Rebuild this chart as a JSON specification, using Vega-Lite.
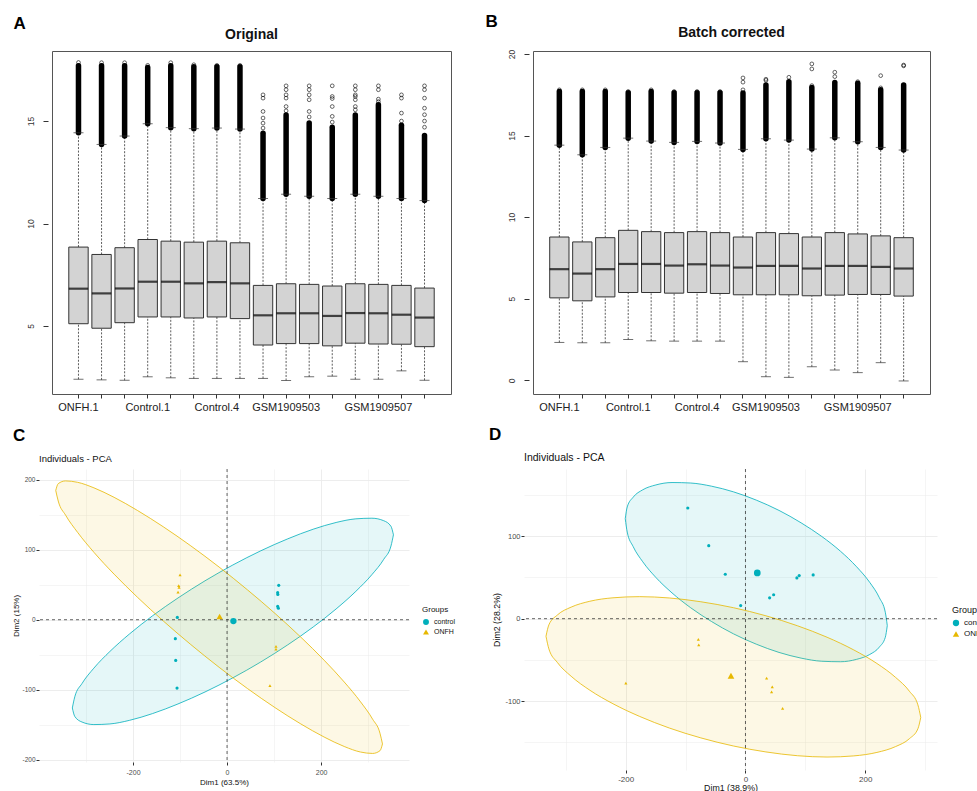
{
"$schema": "https://vega.github.io/schema/vega-lite/v6.json",
"background": "white",
"padding": {"left": 12, "top": 12, "right": 0, "bottom": 0},
"config": {"font": "Liberation Sans", "view": {"stroke": "#555", "strokeWidth": 1}, "axis": {"labelFont": "Liberation Sans", "titleFont": "Liberation Sans"}, "legend": {"labelFont": "Liberation Sans", "titleFont": "Liberation Sans", "layout": {"right": {"anchor": "middle"}}}},
"datasets": {
"zeros": [{"zero": 0}],
"boxA": [
{"sample":"ONFH.1","lower":2.40,"q1":5.11,"median":6.82,"q3":8.85,"upper":14.43,"dense":17.7},
{"sample":"ONFH.2","lower":2.37,"q1":4.89,"median":6.59,"q3":8.49,"upper":13.86,"dense":17.7},
{"sample":"ONFH.3","lower":2.35,"q1":5.16,"median":6.83,"q3":8.82,"upper":14.27,"dense":17.7},
{"sample":"Control.1","lower":2.52,"q1":5.44,"median":7.16,"q3":9.22,"upper":14.87,"dense":17.62},
{"sample":"Control.2","lower":2.47,"q1":5.44,"median":7.16,"q3":9.14,"upper":14.68,"dense":17.7},
{"sample":"Control.3","lower":2.44,"q1":5.39,"median":7.08,"q3":9.09,"upper":14.63,"dense":17.65},
{"sample":"Control.4","lower":2.44,"q1":5.44,"median":7.14,"q3":9.14,"upper":14.66,"dense":17.65},
{"sample":"Control.5","lower":2.44,"q1":5.36,"median":7.08,"q3":9.06,"upper":14.61,"dense":17.65},
{"sample":"GSM1909502","lower":2.44,"q1":4.07,"median":5.52,"q3":6.98,"upper":11.22,"dense":14.4},
{"sample":"GSM1909503","lower":2.34,"q1":4.14,"median":5.62,"q3":7.06,"upper":11.43,"dense":15.3},
{"sample":"GSM1909504","lower":2.52,"q1":4.14,"median":5.62,"q3":7.03,"upper":11.33,"dense":14.9},
{"sample":"GSM1909505","lower":2.55,"q1":4.03,"median":5.49,"q3":6.95,"upper":11.22,"dense":14.7},
{"sample":"GSM1909506","lower":2.40,"q1":4.16,"median":5.63,"q3":7.06,"upper":11.43,"dense":15.3},
{"sample":"GSM1909507","lower":2.40,"q1":4.12,"median":5.62,"q3":7.03,"upper":11.33,"dense":15.8},
{"sample":"GSM1909508","lower":2.81,"q1":4.11,"median":5.55,"q3":6.98,"upper":11.22,"dense":14.8},
{"sample":"GSM1909509","lower":2.35,"q1":3.99,"median":5.41,"q3":6.85,"upper":11.12,"dense":14.3}
],
"outA": [
{"sample":"ONFH.1","value":17.86},{"sample":"ONFH.2","value":17.85},{"sample":"ONFH.3","value":17.85},
{"sample":"Control.1","value":17.72},{"sample":"Control.2","value":17.85},{"sample":"Control.3","value":17.75},{"sample":"Control.4","value":17.72},{"sample":"Control.5","value":17.72},
{"sample":"GSM1909502","value":16.28},{"sample":"GSM1909502","value":16.12},{"sample":"GSM1909502","value":15.47},{"sample":"GSM1909502","value":15.15},{"sample":"GSM1909502","value":14.9},{"sample":"GSM1909502","value":14.66},
{"sample":"GSM1909503","value":16.72},{"sample":"GSM1909503","value":16.53},{"sample":"GSM1909503","value":16.28},{"sample":"GSM1909503","value":16.12},{"sample":"GSM1909503","value":15.71},{"sample":"GSM1909503","value":15.5},
{"sample":"GSM1909504","value":16.72},{"sample":"GSM1909504","value":16.53},{"sample":"GSM1909504","value":16.28},{"sample":"GSM1909504","value":16.04},{"sample":"GSM1909504","value":15.47},{"sample":"GSM1909504","value":15.2},
{"sample":"GSM1909505","value":16.72},{"sample":"GSM1909505","value":16.2},{"sample":"GSM1909505","value":16.1},{"sample":"GSM1909505","value":15.71},{"sample":"GSM1909505","value":15.23},{"sample":"GSM1909505","value":14.95},
{"sample":"GSM1909506","value":16.72},{"sample":"GSM1909506","value":16.53},{"sample":"GSM1909506","value":16.28},{"sample":"GSM1909506","value":16.2},{"sample":"GSM1909506","value":16.04},{"sample":"GSM1909506","value":15.71},{"sample":"GSM1909506","value":15.55},
{"sample":"GSM1909507","value":16.72},{"sample":"GSM1909507","value":16.53},{"sample":"GSM1909507","value":16.07},{"sample":"GSM1909507","value":15.95},
{"sample":"GSM1909508","value":16.28},{"sample":"GSM1909508","value":16.12},{"sample":"GSM1909508","value":15.39},{"sample":"GSM1909508","value":15.0},
{"sample":"GSM1909509","value":16.72},{"sample":"GSM1909509","value":16.53},{"sample":"GSM1909509","value":16.12},{"sample":"GSM1909509","value":15.63},{"sample":"GSM1909509","value":15.31},{"sample":"GSM1909509","value":15.0},{"sample":"GSM1909509","value":14.7}
],
"boxB": [
{"sample":"ONFH.1","lower":2.32,"q1":5.05,"median":6.81,"q3":8.78,"upper":14.41,"dense":17.7},
{"sample":"ONFH.2","lower":2.30,"q1":4.87,"median":6.54,"q3":8.48,"upper":13.82,"dense":17.7},
{"sample":"ONFH.3","lower":2.30,"q1":5.11,"median":6.81,"q3":8.74,"upper":14.27,"dense":17.7},
{"sample":"Control.1","lower":2.50,"q1":5.38,"median":7.13,"q3":9.19,"upper":14.84,"dense":17.62},
{"sample":"Control.2","lower":2.42,"q1":5.38,"median":7.13,"q3":9.11,"upper":14.66,"dense":17.7},
{"sample":"Control.3","lower":2.40,"q1":5.34,"median":7.03,"q3":9.05,"upper":14.58,"dense":17.62},
{"sample":"Control.4","lower":2.40,"q1":5.38,"median":7.11,"q3":9.11,"upper":14.64,"dense":17.62},
{"sample":"Control.5","lower":2.40,"q1":5.32,"median":7.03,"q3":9.05,"upper":14.54,"dense":17.62},
{"sample":"GSM1909502","lower":1.14,"q1":5.24,"median":6.91,"q3":8.78,"upper":14.15,"dense":17.6},
{"sample":"GSM1909503","lower":0.22,"q1":5.24,"median":7.01,"q3":9.05,"upper":14.80,"dense":18.1},
{"sample":"GSM1909504","lower":0.18,"q1":5.24,"median":7.01,"q3":8.99,"upper":14.72,"dense":18.3},
{"sample":"GSM1909505","lower":0.83,"q1":5.18,"median":6.85,"q3":8.78,"upper":14.17,"dense":17.95},
{"sample":"GSM1909506","lower":0.63,"q1":5.22,"median":7.01,"q3":9.05,"upper":14.86,"dense":18.25},
{"sample":"GSM1909507","lower":0.47,"q1":5.26,"median":7.01,"q3":8.97,"upper":14.62,"dense":18.2},
{"sample":"GSM1909508","lower":1.08,"q1":5.26,"median":6.95,"q3":8.85,"upper":14.27,"dense":17.8},
{"sample":"GSM1909509","lower":-0.04,"q1":5.16,"median":6.85,"q3":8.74,"upper":14.11,"dense":18.1}
],
"outB": [
{"sample":"ONFH.1","value":17.8},{"sample":"ONFH.2","value":17.8},{"sample":"ONFH.3","value":17.8},
{"sample":"Control.1","value":17.7},{"sample":"Control.2","value":17.8},{"sample":"Control.3","value":17.7},{"sample":"Control.4","value":17.7},{"sample":"Control.5","value":17.7},
{"sample":"GSM1909502","value":17.8},{"sample":"GSM1909502","value":18.27},{"sample":"GSM1909502","value":18.53},
{"sample":"GSM1909503","value":18.38},{"sample":"GSM1909503","value":18.45},
{"sample":"GSM1909504","value":18.57},
{"sample":"GSM1909505","value":18.06},{"sample":"GSM1909505","value":19.08},{"sample":"GSM1909505","value":19.39},
{"sample":"GSM1909506","value":18.61},{"sample":"GSM1909506","value":18.88},
{"sample":"GSM1909507","value":18.3},
{"sample":"GSM1909508","value":17.92},{"sample":"GSM1909508","value":18.67},
{"sample":"GSM1909509","value":19.27},{"sample":"GSM1909509","value":19.32}
],
"ellC": [
{"group":"control","x":353.9,"top":121.1,"bot":121.1},
{"group":"control","x":348.7,"top":133.2,"bot":105.2},
{"group":"control","x":333.3,"top":141.2,"bot":86.2},
{"group":"control","x":308.1,"top":144.8,"bot":64.3},
{"group":"control","x":274.0,"top":143.9,"bot":40.5},
{"group":"control","x":231.9,"top":138.7,"bot":15.3},
{"group":"control","x":183.2,"top":129.1,"bot":-10.4},
{"group":"control","x":129.2,"top":115.4,"bot":-35.8},
{"group":"control","x":71.7,"top":98.3,"bot":-60.3},
{"group":"control","x":12.4,"top":78.1,"bot":-82.9},
{"group":"control","x":-46.9,"top":55.5,"bot":-103.1},
{"group":"control","x":-104.4,"top":31.0,"bot":-120.2},
{"group":"control","x":-158.4,"top":5.6,"bot":-133.9},
{"group":"control","x":-207.1,"top":-20.1,"bot":-143.5},
{"group":"control","x":-249.2,"top":-45.3,"bot":-148.7},
{"group":"control","x":-283.3,"top":-69.1,"bot":-149.6},
{"group":"control","x":-308.5,"top":-91.0,"bot":-146.0},
{"group":"control","x":-323.9,"top":-110.0,"bot":-138.0},
{"group":"control","x":-329.1,"top":-125.9,"bot":-125.9},
{"group":"ONFH","x":330.6,"top":-177.2,"bot":-177.2},
{"group":"ONFH","x":325.3,"top":-162.0,"bot":-186.9},
{"group":"ONFH","x":309.6,"top":-141.9,"bot":-190.8},
{"group":"ONFH","x":284.0,"top":-117.2,"bot":-188.8},
{"group":"ONFH","x":249.3,"top":-88.9,"bot":-180.9},
{"group":"ONFH","x":206.5,"top":-57.8,"bot":-167.4},
{"group":"ONFH","x":156.9,"top":-24.9,"bot":-148.7},
{"group":"ONFH","x":101.9,"top":9.0,"bot":-125.4},
{"group":"ONFH","x":43.4,"top":42.6,"bot":-98.2},
{"group":"ONFH","x":-16.9,"top":75.1,"bot":-67.9},
{"group":"ONFH","x":-77.2,"top":105.4,"bot":-35.4},
{"group":"ONFH","x":-135.7,"top":132.6,"bot":-1.8},
{"group":"ONFH","x":-190.7,"top":155.9,"bot":32.1},
{"group":"ONFH","x":-240.3,"top":174.6,"bot":65.0},
{"group":"ONFH","x":-283.1,"top":188.1,"bot":96.1},
{"group":"ONFH","x":-317.8,"top":196.0,"bot":124.5},
{"group":"ONFH","x":-343.4,"top":198.0,"bot":149.1},
{"group":"ONFH","x":-359.1,"top":194.1,"bot":169.3},
{"group":"ONFH","x":-364.4,"top":184.4,"bot":184.4}
],
"ptsC": [
{"group":"control","kind":"ind","x":109.9,"y":49.0},
{"group":"control","kind":"ind","x":107.7,"y":38.6},
{"group":"control","kind":"ind","x":108.0,"y":36.0},
{"group":"control","kind":"ind","x":107.7,"y":19.0},
{"group":"control","kind":"ind","x":109.2,"y":16.3},
{"group":"control","kind":"ind","x":-105.8,"y":3.3},
{"group":"control","kind":"ind","x":-110.0,"y":-27.1},
{"group":"control","kind":"ind","x":-109.2,"y":-58.1},
{"group":"control","kind":"ind","x":-106.4,"y":-97.6},
{"group":"control","kind":"mean","x":13.5,"y":-1.9},
{"group":"ONFH","kind":"ind","x":-100.0,"y":63.8},
{"group":"ONFH","kind":"ind","x":-102.8,"y":48.6},
{"group":"ONFH","kind":"ind","x":-102.1,"y":46.2},
{"group":"ONFH","kind":"ind","x":-104.3,"y":39.5},
{"group":"ONFH","kind":"ind","x":104.1,"y":-38.1},
{"group":"ONFH","kind":"ind","x":104.1,"y":-41.9},
{"group":"ONFH","kind":"ind","x":91.2,"y":-93.9},
{"group":"ONFH","kind":"mean","x":-15.8,"y":4.7}
],
"ellD": [
{"group":"control","x":236.7,"top":-8.4,"bot":-8.4},
{"group":"control","x":233.4,"top":7.8,"bot":-22.6},
{"group":"control","x":223.5,"top":25.4,"bot":-34.4},
{"group":"control","x":207.4,"top":44.0,"bot":-43.4},
{"group":"control","x":185.5,"top":62.9,"bot":-49.3},
{"group":"control","x":158.6,"top":81.7,"bot":-52.2},
{"group":"control","x":127.4,"top":99.6,"bot":-51.6},
{"group":"control","x":92.8,"top":116.2,"bot":-47.8},
{"group":"control","x":56.0,"top":131.2,"bot":-40.9},
{"group":"control","x":18.0,"top":143.7,"bot":-30.9},
{"group":"control","x":-20.0,"top":153.7,"bot":-18.4},
{"group":"control","x":-56.8,"top":160.6,"bot":-3.4},
{"group":"control","x":-91.4,"top":164.4,"bot":13.2},
{"group":"control","x":-122.6,"top":165.0,"bot":31.2},
{"group":"control","x":-149.5,"top":162.1,"bot":49.9},
{"group":"control","x":-171.4,"top":156.2,"bot":68.9},
{"group":"control","x":-187.5,"top":147.2,"bot":87.4},
{"group":"control","x":-197.4,"top":135.4,"bot":105.0},
{"group":"control","x":-200.7,"top":121.2,"bot":121.2},
{"group":"ONFH","x":292.6,"top":-119.7,"bot":-119.7},
{"group":"ONFH","x":287.8,"top":-104.4,"bot":-133.5},
{"group":"ONFH","x":273.7,"top":-88.0,"bot":-145.4},
{"group":"ONFH","x":250.6,"top":-71.2,"bot":-155.0},
{"group":"ONFH","x":219.4,"top":-54.3,"bot":-162.1},
{"group":"ONFH","x":180.8,"top":-37.9,"bot":-166.3},
{"group":"ONFH","x":136.2,"top":-22.5,"bot":-167.7},
{"group":"ONFH","x":86.8,"top":-8.6,"bot":-166.1},
{"group":"ONFH","x":34.1,"top":3.5,"bot":-161.5},
{"group":"ONFH","x":-20.2,"top":13.3,"bot":-154.3},
{"group":"ONFH","x":-74.5,"top":20.5,"bot":-144.5},
{"group":"ONFH","x":-127.2,"top":25.1,"bot":-132.5},
{"group":"ONFH","x":-176.6,"top":26.7,"bot":-118.5},
{"group":"ONFH","x":-221.2,"top":25.3,"bot":-103.1},
{"group":"ONFH","x":-259.8,"top":21.1,"bot":-86.7},
{"group":"ONFH","x":-291.0,"top":14.0,"bot":-69.8},
{"group":"ONFH","x":-314.1,"top":4.4,"bot":-53.0},
{"group":"ONFH","x":-328.2,"top":-7.5,"bot":-36.6},
{"group":"ONFH","x":-333.0,"top":-21.3,"bot":-21.3}
],
"ptsD": [
{"group":"control","kind":"ind","x":-96.3,"y":134.1},
{"group":"control","kind":"ind","x":-61.3,"y":88.5},
{"group":"control","kind":"ind","x":-33.7,"y":53.8},
{"group":"control","kind":"ind","x":-8.0,"y":15.9},
{"group":"control","kind":"ind","x":85.8,"y":49.4},
{"group":"control","kind":"ind","x":89.7,"y":52.2},
{"group":"control","kind":"ind","x":113.0,"y":53.0},
{"group":"control","kind":"ind","x":40.3,"y":25.3},
{"group":"control","kind":"ind","x":47.0,"y":29.0},
{"group":"control","kind":"mean","x":19.7,"y":55.5},
{"group":"ONFH","kind":"ind","x":-78.7,"y":-25.2},
{"group":"ONFH","kind":"ind","x":-78.0,"y":-31.8},
{"group":"ONFH","kind":"ind","x":-199.7,"y":-78.2},
{"group":"ONFH","kind":"ind","x":35.3,"y":-72.1},
{"group":"ONFH","kind":"ind","x":44.7,"y":-82.6},
{"group":"ONFH","kind":"ind","x":43.6,"y":-88.8},
{"group":"ONFH","kind":"ind","x":62.0,"y":-108.8},
{"group":"ONFH","kind":"mean","x":-24.2,"y":-69.2}
]
},
"resolve": {"scale": {"color": "independent", "shape": "independent", "size": "independent", "fill": "independent", "stroke": "independent"}, "legend": {"color": "independent", "shape": "independent"}},
"spacing": 13,
"vconcat": [
{
"spacing": -27,
"hconcat": [
{"width": 1, "height": 1, "data": {"values": []}, "mark": {"type": "point", "opacity": 0}, "view": {"stroke": null}},
{
"spacing": 33,
"hconcat": [
{
"title": {"text": "A", "anchor": "start", "frame": "bounds", "fontSize": 17, "fontWeight": "bold", "color": "black", "offset": -5},
"vconcat": [
{
"width": 399, "height": 343,
"title": {"text": "Original", "fontSize": 14, "fontWeight": "bold", "anchor": "middle", "color": "#111", "offset": 9},
"data": {"name": "boxA"},
"encoding": {"x": {"field": "sample", "type": "nominal", "sort": null, "scale": {"type": "band", "domain": ["ONFH.1","ONFH.2","ONFH.3","Control.1","Control.2","Control.3","Control.4","Control.5","GSM1909502","GSM1909503","GSM1909504","GSM1909505","GSM1909506","GSM1909507","GSM1909508","GSM1909509"], "paddingInner": 0, "paddingOuter": 0.648},
 "axis": {"title": null, "domain": false, "grid": false, "tickSize": 4, "tickColor": "#333", "bandPosition": 0.5, "labelAngle": 0, "labelFontSize": 11, "labelColor": "#222", "labelPadding": 3, "labelOverlap": false, "labelExpr": "indexof(['ONFH.1','Control.1','Control.4','GSM1909503','GSM1909507'], datum.value) >= 0 ? datum.value : ''"}}},
"layer": [
{"mark": {"type": "rule", "strokeDash": [2, 1.5], "strokeWidth": 0.8, "color": "#333"}, "encoding": {"y": {"field": "lower", "type": "quantitative", "scale": {"domain": [1.68, 18.42], "nice": false, "zero": false}, "axis": {"title": " ", "titleFontSize": 8, "titlePadding": 4, "values": [5, 10, 15], "labelAngle": -90, "domain": false, "grid": false, "tickSize": 5, "tickColor": "#333", "offset": 4, "labelPadding": 8, "labelFontSize": 8.5, "labelColor": "#333"}}, "y2": {"field": "q1"}}},
{"mark": {"type": "rule", "strokeDash": [2, 1.5], "strokeWidth": 0.8, "color": "#333"}, "encoding": {"y": {"field": "q3", "type": "quantitative", "scale": {"domain": [1.68, 18.42], "nice": false, "zero": false}, "axis": {"title": " ", "titleFontSize": 8, "titlePadding": 4, "values": [5, 10, 15], "labelAngle": -90, "domain": false, "grid": false, "tickSize": 5, "tickColor": "#333", "offset": 4, "labelPadding": 8, "labelFontSize": 8.5, "labelColor": "#333"}}, "y2": {"field": "upper"}}},
{"mark": {"type": "rule", "strokeWidth": 5.5, "color": "black", "strokeCap": "round"}, "encoding": {"y": {"field": "upper", "type": "quantitative", "scale": {"domain": [1.68, 18.42], "nice": false, "zero": false}, "axis": {"title": " ", "titleFontSize": 8, "titlePadding": 4, "values": [5, 10, 15], "labelAngle": -90, "domain": false, "grid": false, "tickSize": 5, "tickColor": "#333", "offset": 4, "labelPadding": 8, "labelFontSize": 8.5, "labelColor": "#333"}}, "y2": {"field": "dense"}}},
{"mark": {"type": "tick", "size": 10, "thickness": 1, "color": "#333"}, "encoding": {"y": {"field": "lower", "type": "quantitative", "scale": {"domain": [1.68, 18.42], "nice": false, "zero": false}, "axis": {"title": " ", "titleFontSize": 8, "titlePadding": 4, "values": [5, 10, 15], "labelAngle": -90, "domain": false, "grid": false, "tickSize": 5, "tickColor": "#333", "offset": 4, "labelPadding": 8, "labelFontSize": 8.5, "labelColor": "#333"}}}},
{"mark": {"type": "tick", "size": 10, "thickness": 1, "color": "#333"}, "encoding": {"y": {"field": "upper", "type": "quantitative", "scale": {"domain": [1.68, 18.42], "nice": false, "zero": false}, "axis": {"title": " ", "titleFontSize": 8, "titlePadding": 4, "values": [5, 10, 15], "labelAngle": -90, "domain": false, "grid": false, "tickSize": 5, "tickColor": "#333", "offset": 4, "labelPadding": 8, "labelFontSize": 8.5, "labelColor": "#333"}}}},
{"mark": {"type": "bar", "width": {"band": 0.84}, "fill": "#D3D3D3", "stroke": "#333", "strokeWidth": 1}, "encoding": {"y": {"field": "q1", "type": "quantitative", "scale": {"domain": [1.68, 18.42], "nice": false, "zero": false}, "axis": {"title": " ", "titleFontSize": 8, "titlePadding": 4, "values": [5, 10, 15], "labelAngle": -90, "domain": false, "grid": false, "tickSize": 5, "tickColor": "#333", "offset": 4, "labelPadding": 8, "labelFontSize": 8.5, "labelColor": "#333"}}, "y2": {"field": "q3"}}},
{"mark": {"type": "tick", "size": 19.4, "thickness": 2.2, "color": "black"}, "encoding": {"y": {"field": "median", "type": "quantitative", "scale": {"domain": [1.68, 18.42], "nice": false, "zero": false}, "axis": {"title": " ", "titleFontSize": 8, "titlePadding": 4, "values": [5, 10, 15], "labelAngle": -90, "domain": false, "grid": false, "tickSize": 5, "tickColor": "#333", "offset": 4, "labelPadding": 8, "labelFontSize": 8.5, "labelColor": "#333"}}}},
{"data": {"name": "outA"}, "mark": {"type": "point", "shape": "circle", "filled": false, "size": 14, "color": "black", "strokeWidth": 0.6, "opacity": 1}, "encoding": {"y": {"field": "value", "type": "quantitative", "scale": {"domain": [1.68, 18.42], "nice": false, "zero": false}, "axis": {"title": " ", "titleFontSize": 8, "titlePadding": 4, "values": [5, 10, 15], "labelAngle": -90, "domain": false, "grid": false, "tickSize": 5, "tickColor": "#333", "offset": 4, "labelPadding": 8, "labelFontSize": 8.5, "labelColor": "#333"}}}}
]
}
]
},
{
"title": {"text": "B", "anchor": "start", "frame": "bounds", "fontSize": 17, "fontWeight": "bold", "color": "black", "offset": -5},
"vconcat": [
{
"width": 397, "height": 343,
"title": {"text": "Batch corrected", "fontSize": 14, "fontWeight": "bold", "anchor": "middle", "color": "#111", "offset": 9},
"data": {"name": "boxB"},
"encoding": {"x": {"field": "sample", "type": "nominal", "sort": null, "scale": {"type": "band", "domain": ["ONFH.1","ONFH.2","ONFH.3","Control.1","Control.2","Control.3","Control.4","Control.5","GSM1909502","GSM1909503","GSM1909504","GSM1909505","GSM1909506","GSM1909507","GSM1909508","GSM1909509"], "paddingInner": 0, "paddingOuter": 0.648},
 "axis": {"title": null, "domain": false, "grid": false, "tickSize": 4, "tickColor": "#333", "bandPosition": 0.5, "labelAngle": 0, "labelFontSize": 11, "labelColor": "#222", "labelPadding": 3, "labelOverlap": false, "labelExpr": "indexof(['ONFH.1','Control.1','Control.4','GSM1909503','GSM1909507'], datum.value) >= 0 ? datum.value : ''"}}},
"layer": [
{"mark": {"type": "rule", "strokeDash": [2, 1.5], "strokeWidth": 0.8, "color": "#333"}, "encoding": {"y": {"field": "lower", "type": "quantitative", "scale": {"domain": [-0.84, 20.18], "nice": false, "zero": false}, "axis": {"title": " ", "titleFontSize": 8, "titlePadding": 13, "values": [0, 5, 10, 15, 20], "labelAngle": -90, "domain": false, "grid": false, "tickSize": 5, "tickColor": "#333", "offset": 4, "labelPadding": 8, "labelFontSize": 8.5, "labelColor": "#333"}}, "y2": {"field": "q1"}}},
{"mark": {"type": "rule", "strokeDash": [2, 1.5], "strokeWidth": 0.8, "color": "#333"}, "encoding": {"y": {"field": "q3", "type": "quantitative", "scale": {"domain": [-0.84, 20.18], "nice": false, "zero": false}, "axis": {"title": " ", "titleFontSize": 8, "titlePadding": 13, "values": [0, 5, 10, 15, 20], "labelAngle": -90, "domain": false, "grid": false, "tickSize": 5, "tickColor": "#333", "offset": 4, "labelPadding": 8, "labelFontSize": 8.5, "labelColor": "#333"}}, "y2": {"field": "upper"}}},
{"mark": {"type": "rule", "strokeWidth": 5.5, "color": "black", "strokeCap": "round"}, "encoding": {"y": {"field": "upper", "type": "quantitative", "scale": {"domain": [-0.84, 20.18], "nice": false, "zero": false}, "axis": {"title": " ", "titleFontSize": 8, "titlePadding": 13, "values": [0, 5, 10, 15, 20], "labelAngle": -90, "domain": false, "grid": false, "tickSize": 5, "tickColor": "#333", "offset": 4, "labelPadding": 8, "labelFontSize": 8.5, "labelColor": "#333"}}, "y2": {"field": "dense"}}},
{"mark": {"type": "tick", "size": 10, "thickness": 1, "color": "#333"}, "encoding": {"y": {"field": "lower", "type": "quantitative", "scale": {"domain": [-0.84, 20.18], "nice": false, "zero": false}, "axis": {"title": " ", "titleFontSize": 8, "titlePadding": 13, "values": [0, 5, 10, 15, 20], "labelAngle": -90, "domain": false, "grid": false, "tickSize": 5, "tickColor": "#333", "offset": 4, "labelPadding": 8, "labelFontSize": 8.5, "labelColor": "#333"}}}},
{"mark": {"type": "tick", "size": 10, "thickness": 1, "color": "#333"}, "encoding": {"y": {"field": "upper", "type": "quantitative", "scale": {"domain": [-0.84, 20.18], "nice": false, "zero": false}, "axis": {"title": " ", "titleFontSize": 8, "titlePadding": 13, "values": [0, 5, 10, 15, 20], "labelAngle": -90, "domain": false, "grid": false, "tickSize": 5, "tickColor": "#333", "offset": 4, "labelPadding": 8, "labelFontSize": 8.5, "labelColor": "#333"}}}},
{"mark": {"type": "bar", "width": {"band": 0.84}, "fill": "#D3D3D3", "stroke": "#333", "strokeWidth": 1}, "encoding": {"y": {"field": "q1", "type": "quantitative", "scale": {"domain": [-0.84, 20.18], "nice": false, "zero": false}, "axis": {"title": " ", "titleFontSize": 8, "titlePadding": 13, "values": [0, 5, 10, 15, 20], "labelAngle": -90, "domain": false, "grid": false, "tickSize": 5, "tickColor": "#333", "offset": 4, "labelPadding": 8, "labelFontSize": 8.5, "labelColor": "#333"}}, "y2": {"field": "q3"}}},
{"mark": {"type": "tick", "size": 19.4, "thickness": 2.2, "color": "black"}, "encoding": {"y": {"field": "median", "type": "quantitative", "scale": {"domain": [-0.84, 20.18], "nice": false, "zero": false}, "axis": {"title": " ", "titleFontSize": 8, "titlePadding": 13, "values": [0, 5, 10, 15, 20], "labelAngle": -90, "domain": false, "grid": false, "tickSize": 5, "tickColor": "#333", "offset": 4, "labelPadding": 8, "labelFontSize": 8.5, "labelColor": "#333"}}}},
{"data": {"name": "outB"}, "mark": {"type": "point", "shape": "circle", "filled": false, "size": 14, "color": "black", "strokeWidth": 0.6, "opacity": 1}, "encoding": {"y": {"field": "value", "type": "quantitative", "scale": {"domain": [-0.84, 20.18], "nice": false, "zero": false}, "axis": {"title": " ", "titleFontSize": 8, "titlePadding": 13, "values": [0, 5, 10, 15, 20], "labelAngle": -90, "domain": false, "grid": false, "tickSize": 5, "tickColor": "#333", "offset": 4, "labelPadding": 8, "labelFontSize": 8.5, "labelColor": "#333"}}}}
]
}
]
}
]
}
]
},
{
"resolve": {"scale": {"color": "independent", "shape": "independent", "size": "independent", "fill": "independent", "stroke": "independent"}, "legend": {"color": "independent", "shape": "independent"}},
"hconcat": [
{
"title": {"text": "C", "anchor": "start", "frame": "bounds", "fontSize": 17, "fontWeight": "bold", "color": "black", "offset": 9},
"vconcat": [
{
"width": 370, "height": 293,
"view": {"stroke": null},
"title": {"text": "Individuals - PCA", "fontSize": 9.5, "fontWeight": "normal", "anchor": "start", "frame": "group", "color": "#111", "offset": 5},
"layer": [
{"data": {"name": "ellC"}, "mark": {"type": "area", "interpolate": "monotone", "fillOpacity": 0.1, "strokeWidth": 0.8, "strokeOpacity": 1},
 "encoding": {
  "x": {"field": "x", "type": "quantitative", "scale": {"domain": [-400, 387], "nice": false, "zero": false},
   "axis": {"title": "Dim1 (63.5%)", "values": [-300, -200, -100, 0, 100, 200, 300], "labelExpr": "datum.value % 200 === 0 ? '' + datum.value : ''", "tickOpacity": {"condition": {"test": "datum.value % 200 !== 0", "value": 0}, "value": 1}, "gridWidth": {"condition": {"test": "datum.value % 200 !== 0", "value": 0.5}, "value": 0.9}, "gridColor": "#EBEBEB", "domain": false, "tickSize": 3, "tickColor": "#333", "labelFontSize": 7, "labelColor": "#4D4D4D", "labelPadding": 3, "titleFontSize": 8, "titleFontWeight": "normal", "titleColor": "#111", "titlePadding": 3}},
  "y": {"field": "top", "type": "quantitative", "scale": {"domain": [-203, 215], "nice": false, "zero": false},
   "axis": {"title": "Dim2 (15%)", "values": [-200, -150, -100, -50, 0, 50, 100, 150, 200], "labelExpr": "datum.value % 100 === 0 ? '' + datum.value : ''", "tickOpacity": {"condition": {"test": "datum.value % 100 !== 0", "value": 0}, "value": 1}, "gridWidth": {"condition": {"test": "datum.value % 100 !== 0", "value": 0.5}, "value": 0.9}, "gridColor": "#EBEBEB", "domain": false, "tickSize": 3, "tickColor": "#333", "labelFontSize": 6.5, "labelColor": "#4D4D4D", "labelPadding": 1, "titleFontSize": 8, "titleFontWeight": "normal", "titleColor": "#111", "titlePadding": 1}},
  "y2": {"field": "bot"},
  "fill": {"field": "group", "type": "nominal", "scale": {"domain": ["ONFH", "control"], "range": ["#E7B800", "#00AFBB"]}, "legend": null},
  "stroke": {"field": "group", "type": "nominal", "scale": {"domain": ["ONFH", "control"], "range": ["#E7B800", "#00AFBB"]}, "legend": null}
 }},
{"data": {"name": "zeros"}, "mark": {"type": "rule", "strokeDash": [3, 3], "strokeWidth": 0.7, "color": "#222"}, "encoding": {"x": {"field": "zero", "type": "quantitative", "scale": {"domain": [-400, 387], "nice": false, "zero": false},
   "axis": {"title": "Dim1 (63.5%)", "values": [-300, -200, -100, 0, 100, 200, 300], "labelExpr": "datum.value % 200 === 0 ? '' + datum.value : ''", "tickOpacity": {"condition": {"test": "datum.value % 200 !== 0", "value": 0}, "value": 1}, "gridWidth": {"condition": {"test": "datum.value % 200 !== 0", "value": 0.5}, "value": 0.9}, "gridColor": "#EBEBEB", "domain": false, "tickSize": 3, "tickColor": "#333", "labelFontSize": 7, "labelColor": "#4D4D4D", "labelPadding": 3, "titleFontSize": 8, "titleFontWeight": "normal", "titleColor": "#111", "titlePadding": 3}}}},
{"data": {"name": "zeros"}, "mark": {"type": "rule", "strokeDash": [3, 3], "strokeWidth": 0.7, "color": "#222"}, "encoding": {"y": {"field": "zero", "type": "quantitative", "scale": {"domain": [-203, 215], "nice": false, "zero": false},
   "axis": {"title": "Dim2 (15%)", "values": [-200, -150, -100, -50, 0, 50, 100, 150, 200], "labelExpr": "datum.value % 100 === 0 ? '' + datum.value : ''", "tickOpacity": {"condition": {"test": "datum.value % 100 !== 0", "value": 0}, "value": 1}, "gridWidth": {"condition": {"test": "datum.value % 100 !== 0", "value": 0.5}, "value": 0.9}, "gridColor": "#EBEBEB", "domain": false, "tickSize": 3, "tickColor": "#333", "labelFontSize": 6.5, "labelColor": "#4D4D4D", "labelPadding": 1, "titleFontSize": 8, "titleFontWeight": "normal", "titleColor": "#111", "titlePadding": 1}}}},
{"data": {"name": "ptsC"}, "mark": {"type": "point", "filled": true, "opacity": 1, "strokeWidth": 0},
 "encoding": {
  "x": {"field": "x", "type": "quantitative", "scale": {"domain": [-400, 387], "nice": false, "zero": false},
   "axis": {"title": "Dim1 (63.5%)", "values": [-300, -200, -100, 0, 100, 200, 300], "labelExpr": "datum.value % 200 === 0 ? '' + datum.value : ''", "tickOpacity": {"condition": {"test": "datum.value % 200 !== 0", "value": 0}, "value": 1}, "gridWidth": {"condition": {"test": "datum.value % 200 !== 0", "value": 0.5}, "value": 0.9}, "gridColor": "#EBEBEB", "domain": false, "tickSize": 3, "tickColor": "#333", "labelFontSize": 7, "labelColor": "#4D4D4D", "labelPadding": 3, "titleFontSize": 8, "titleFontWeight": "normal", "titleColor": "#111", "titlePadding": 3}},
  "y": {"field": "y", "type": "quantitative", "scale": {"domain": [-203, 215], "nice": false, "zero": false},
   "axis": {"title": "Dim2 (15%)", "values": [-200, -150, -100, -50, 0, 50, 100, 150, 200], "labelExpr": "datum.value % 100 === 0 ? '' + datum.value : ''", "tickOpacity": {"condition": {"test": "datum.value % 100 !== 0", "value": 0}, "value": 1}, "gridWidth": {"condition": {"test": "datum.value % 100 !== 0", "value": 0.5}, "value": 0.9}, "gridColor": "#EBEBEB", "domain": false, "tickSize": 3, "tickColor": "#333", "labelFontSize": 6.5, "labelColor": "#4D4D4D", "labelPadding": 1, "titleFontSize": 8, "titleFontWeight": "normal", "titleColor": "#111", "titlePadding": 1}},
  "color": {"field": "group", "type": "nominal", "scale": {"domain": ["control", "ONFH"], "range": ["#00AFBB", "#E7B800"]}, "legend": {"title": "Groups", "orient": "right", "offset": 12, "titleFontSize": 8, "titleFontWeight": "normal", "titleColor": "#111", "labelFontSize": 7, "labelColor": "#111", "symbolSize": 35, "rowPadding": 3, "titlePadding": 4}},
  "shape": {"field": "group", "type": "nominal", "scale": {"domain": ["control", "ONFH"], "range": ["circle", "triangle-up"]}, "legend": {"title": "Groups", "orient": "right", "offset": 12, "titleFontSize": 8, "titleFontWeight": "normal", "titleColor": "#111", "labelFontSize": 7, "labelColor": "#111", "symbolSize": 35, "rowPadding": 3, "titlePadding": 4}},
  "size": {"field": "kind", "type": "nominal", "scale": {"domain": ["ind", "mean"], "range": [10, 40]}, "legend": null}
 }}
]
}
]
},
{
"title": {"text": "D", "anchor": "start", "frame": "bounds", "fontSize": 17, "fontWeight": "bold", "color": "black", "dx": -4, "offset": 9},
"vconcat": [
{
"width": 413, "height": 301,
"view": {"stroke": null},
"title": {"text": "Individuals - PCA", "fontSize": 10.5, "fontWeight": "normal", "anchor": "start", "frame": "group", "color": "#111", "offset": 5},
"layer": [
{"data": {"name": "ellD"}, "mark": {"type": "area", "interpolate": "monotone", "fillOpacity": 0.1, "strokeWidth": 0.8, "strokeOpacity": 1},
 "encoding": {
  "x": {"field": "x", "type": "quantitative", "scale": {"domain": [-369.7, 319.7], "nice": false, "zero": false},
   "axis": {"title": "Dim1 (38.9%)", "values": [-300, -200, -100, 0, 100, 200, 300], "labelExpr": "datum.value % 200 === 0 ? '' + datum.value : ''", "tickOpacity": {"condition": {"test": "datum.value % 200 !== 0", "value": 0}, "value": 1}, "gridWidth": {"condition": {"test": "datum.value % 200 !== 0", "value": 0.5}, "value": 0.9}, "gridColor": "#EBEBEB", "domain": false, "tickSize": 3, "tickColor": "#333", "labelFontSize": 8, "labelColor": "#4D4D4D", "labelPadding": 2, "titleFontSize": 8.8, "titleFontWeight": "normal", "titleColor": "#111", "titlePadding": 0}},
  "y": {"field": "top", "type": "quantitative", "scale": {"domain": [-183.4, 181.4], "nice": false, "zero": false},
   "axis": {"title": "Dim2 (28.2%)", "values": [-150, -100, -50, 0, 50, 100, 150], "labelExpr": "datum.value % 100 === 0 ? '' + datum.value : ''", "tickOpacity": {"condition": {"test": "datum.value % 100 !== 0", "value": 0}, "value": 1}, "gridWidth": {"condition": {"test": "datum.value % 100 !== 0", "value": 0.5}, "value": 0.9}, "gridColor": "#EBEBEB", "domain": false, "tickSize": 3, "tickColor": "#333", "labelFontSize": 7.5, "labelColor": "#4D4D4D", "labelPadding": 1, "titleFontSize": 8.8, "titleFontWeight": "normal", "titleColor": "#111", "titlePadding": 3}},
  "y2": {"field": "bot"},
  "fill": {"field": "group", "type": "nominal", "scale": {"domain": ["ONFH", "control"], "range": ["#E7B800", "#00AFBB"]}, "legend": null},
  "stroke": {"field": "group", "type": "nominal", "scale": {"domain": ["ONFH", "control"], "range": ["#E7B800", "#00AFBB"]}, "legend": null}
 }},
{"data": {"name": "zeros"}, "mark": {"type": "rule", "strokeDash": [3, 3], "strokeWidth": 0.7, "color": "#222"}, "encoding": {"x": {"field": "zero", "type": "quantitative", "scale": {"domain": [-369.7, 319.7], "nice": false, "zero": false},
   "axis": {"title": "Dim1 (38.9%)", "values": [-300, -200, -100, 0, 100, 200, 300], "labelExpr": "datum.value % 200 === 0 ? '' + datum.value : ''", "tickOpacity": {"condition": {"test": "datum.value % 200 !== 0", "value": 0}, "value": 1}, "gridWidth": {"condition": {"test": "datum.value % 200 !== 0", "value": 0.5}, "value": 0.9}, "gridColor": "#EBEBEB", "domain": false, "tickSize": 3, "tickColor": "#333", "labelFontSize": 8, "labelColor": "#4D4D4D", "labelPadding": 2, "titleFontSize": 8.8, "titleFontWeight": "normal", "titleColor": "#111", "titlePadding": 0}}}},
{"data": {"name": "zeros"}, "mark": {"type": "rule", "strokeDash": [3, 3], "strokeWidth": 0.7, "color": "#222"}, "encoding": {"y": {"field": "zero", "type": "quantitative", "scale": {"domain": [-183.4, 181.4], "nice": false, "zero": false},
   "axis": {"title": "Dim2 (28.2%)", "values": [-150, -100, -50, 0, 50, 100, 150], "labelExpr": "datum.value % 100 === 0 ? '' + datum.value : ''", "tickOpacity": {"condition": {"test": "datum.value % 100 !== 0", "value": 0}, "value": 1}, "gridWidth": {"condition": {"test": "datum.value % 100 !== 0", "value": 0.5}, "value": 0.9}, "gridColor": "#EBEBEB", "domain": false, "tickSize": 3, "tickColor": "#333", "labelFontSize": 7.5, "labelColor": "#4D4D4D", "labelPadding": 1, "titleFontSize": 8.8, "titleFontWeight": "normal", "titleColor": "#111", "titlePadding": 3}}}},
{"data": {"name": "ptsD"}, "mark": {"type": "point", "filled": true, "opacity": 1, "strokeWidth": 0},
 "encoding": {
  "x": {"field": "x", "type": "quantitative", "scale": {"domain": [-369.7, 319.7], "nice": false, "zero": false},
   "axis": {"title": "Dim1 (38.9%)", "values": [-300, -200, -100, 0, 100, 200, 300], "labelExpr": "datum.value % 200 === 0 ? '' + datum.value : ''", "tickOpacity": {"condition": {"test": "datum.value % 200 !== 0", "value": 0}, "value": 1}, "gridWidth": {"condition": {"test": "datum.value % 200 !== 0", "value": 0.5}, "value": 0.9}, "gridColor": "#EBEBEB", "domain": false, "tickSize": 3, "tickColor": "#333", "labelFontSize": 8, "labelColor": "#4D4D4D", "labelPadding": 2, "titleFontSize": 8.8, "titleFontWeight": "normal", "titleColor": "#111", "titlePadding": 0}},
  "y": {"field": "y", "type": "quantitative", "scale": {"domain": [-183.4, 181.4], "nice": false, "zero": false},
   "axis": {"title": "Dim2 (28.2%)", "values": [-150, -100, -50, 0, 50, 100, 150], "labelExpr": "datum.value % 100 === 0 ? '' + datum.value : ''", "tickOpacity": {"condition": {"test": "datum.value % 100 !== 0", "value": 0}, "value": 1}, "gridWidth": {"condition": {"test": "datum.value % 100 !== 0", "value": 0.5}, "value": 0.9}, "gridColor": "#EBEBEB", "domain": false, "tickSize": 3, "tickColor": "#333", "labelFontSize": 7.5, "labelColor": "#4D4D4D", "labelPadding": 1, "titleFontSize": 8.8, "titleFontWeight": "normal", "titleColor": "#111", "titlePadding": 3}},
  "color": {"field": "group", "type": "nominal", "scale": {"domain": ["control", "ONFH"], "range": ["#00AFBB", "#E7B800"]}, "legend": {"title": "Groups", "orient": "right", "offset": 14, "titleFontSize": 9, "titleFontWeight": "normal", "titleColor": "#111", "labelFontSize": 8, "labelColor": "#111", "symbolSize": 40, "rowPadding": 3, "titlePadding": 4}},
  "shape": {"field": "group", "type": "nominal", "scale": {"domain": ["control", "ONFH"], "range": ["circle", "triangle-up"]}, "legend": {"title": "Groups", "orient": "right", "offset": 14, "titleFontSize": 9, "titleFontWeight": "normal", "titleColor": "#111", "labelFontSize": 8, "labelColor": "#111", "symbolSize": 40, "rowPadding": 3, "titlePadding": 4}},
  "size": {"field": "kind", "type": "nominal", "scale": {"domain": ["ind", "mean"], "range": [10, 45]}, "legend": null}
 }}
]
}
]
}
],
"spacing": 32
}
]
}
